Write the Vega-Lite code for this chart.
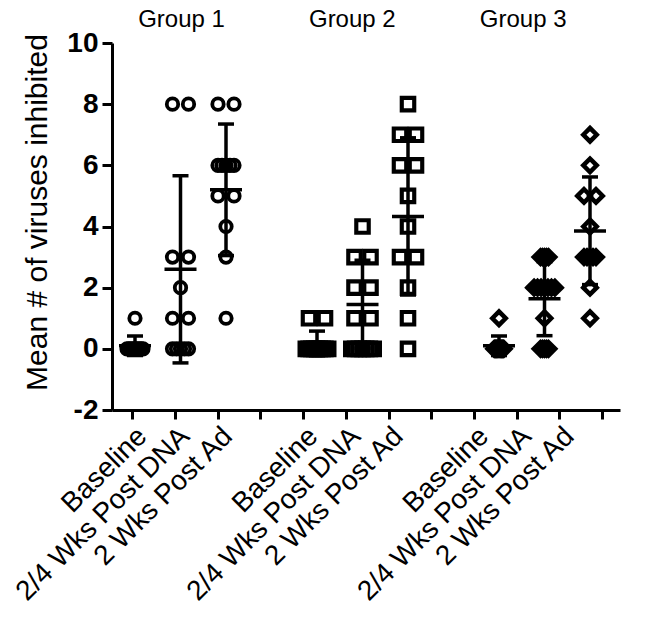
{
  "$schema": "https://vega.github.io/schema/vega-lite/v6.json",
  "autosize": {"type": "none"},
  "padding": {"left": 112, "top": 43, "right": 46, "bottom": 216},
  "width": 508,
  "height": 367,
  "background": "white",
  "datasets": {
    "summ": [
      {"group": "Group 1", "cond": "Baseline", "pos": 1, "mean": 0.1, "lo": -0.22, "hi": 0.42},
      {"group": "Group 1", "cond": "2/4 Wks Post DNA", "pos": 2, "mean": 2.6, "lo": -0.46, "hi": 5.66},
      {"group": "Group 1", "cond": "2 Wks Post Ad", "pos": 3, "mean": 5.2, "lo": 3.05, "hi": 7.35},
      {"group": "Group 2", "cond": "Baseline", "pos": 5, "mean": 0.18, "lo": -0.22, "hi": 0.58},
      {"group": "Group 2", "cond": "2/4 Wks Post DNA", "pos": 6, "mean": 1.45, "lo": 0.02, "hi": 2.9},
      {"group": "Group 2", "cond": "2 Wks Post Ad", "pos": 7, "mean": 4.33, "lo": 1.76, "hi": 6.9},
      {"group": "Group 3", "cond": "Baseline", "pos": 9, "mean": 0.1, "lo": -0.22, "hi": 0.42},
      {"group": "Group 3", "cond": "2/4 Wks Post DNA", "pos": 10, "mean": 1.64, "lo": 0.43, "hi": 2.85},
      {"group": "Group 3", "cond": "2 Wks Post Ad", "pos": 11, "mean": 3.85, "lo": 2.1, "hi": 5.62}
    ],
    "pts": [
      {"group": "Group 1", "pos": 1, "value": 1, "k": 0},
      {"group": "Group 1", "pos": 1, "value": 0, "k": -1},
      {"group": "Group 1", "pos": 1, "value": 0, "k": -0.75},
      {"group": "Group 1", "pos": 1, "value": 0, "k": -0.5},
      {"group": "Group 1", "pos": 1, "value": 0, "k": -0.25},
      {"group": "Group 1", "pos": 1, "value": 0, "k": 0},
      {"group": "Group 1", "pos": 1, "value": 0, "k": 0.25},
      {"group": "Group 1", "pos": 1, "value": 0, "k": 0.5},
      {"group": "Group 1", "pos": 1, "value": 0, "k": 0.75},
      {"group": "Group 1", "pos": 1, "value": 0, "k": 1},

      {"group": "Group 1", "pos": 2, "value": 8, "k": -1},
      {"group": "Group 1", "pos": 2, "value": 8, "k": 1},
      {"group": "Group 1", "pos": 2, "value": 3, "k": -1},
      {"group": "Group 1", "pos": 2, "value": 3, "k": 1},
      {"group": "Group 1", "pos": 2, "value": 2, "k": 0},
      {"group": "Group 1", "pos": 2, "value": 1, "k": -1},
      {"group": "Group 1", "pos": 2, "value": 1, "k": 1},
      {"group": "Group 1", "pos": 2, "value": 0, "k": -1},
      {"group": "Group 1", "pos": 2, "value": 0, "k": -0.5},
      {"group": "Group 1", "pos": 2, "value": 0, "k": 0},
      {"group": "Group 1", "pos": 2, "value": 0, "k": 0.5},
      {"group": "Group 1", "pos": 2, "value": 0, "k": 1},

      {"group": "Group 1", "pos": 3, "value": 8, "k": -1},
      {"group": "Group 1", "pos": 3, "value": 8, "k": 1},
      {"group": "Group 1", "pos": 3, "value": 6, "k": -1},
      {"group": "Group 1", "pos": 3, "value": 6, "k": -0.5},
      {"group": "Group 1", "pos": 3, "value": 6, "k": 0},
      {"group": "Group 1", "pos": 3, "value": 6, "k": 0.5},
      {"group": "Group 1", "pos": 3, "value": 6, "k": 1},
      {"group": "Group 1", "pos": 3, "value": 5, "k": -1},
      {"group": "Group 1", "pos": 3, "value": 5, "k": 1},
      {"group": "Group 1", "pos": 3, "value": 4, "k": 0},
      {"group": "Group 1", "pos": 3, "value": 3, "k": 0},
      {"group": "Group 1", "pos": 3, "value": 1, "k": 0},

      {"group": "Group 2", "pos": 5, "value": 1, "k": -1},
      {"group": "Group 2", "pos": 5, "value": 1, "k": 1},
      {"group": "Group 2", "pos": 5, "value": 0, "k": -1.4},
      {"group": "Group 2", "pos": 5, "value": 0, "k": -1.05},
      {"group": "Group 2", "pos": 5, "value": 0, "k": -0.7},
      {"group": "Group 2", "pos": 5, "value": 0, "k": -0.35},
      {"group": "Group 2", "pos": 5, "value": 0, "k": 0},
      {"group": "Group 2", "pos": 5, "value": 0, "k": 0.35},
      {"group": "Group 2", "pos": 5, "value": 0, "k": 0.7},
      {"group": "Group 2", "pos": 5, "value": 0, "k": 1.05},
      {"group": "Group 2", "pos": 5, "value": 0, "k": 1.4},

      {"group": "Group 2", "pos": 6, "value": 4, "k": 0},
      {"group": "Group 2", "pos": 6, "value": 3, "k": -1},
      {"group": "Group 2", "pos": 6, "value": 3, "k": 1},
      {"group": "Group 2", "pos": 6, "value": 2, "k": -1},
      {"group": "Group 2", "pos": 6, "value": 2, "k": 1},
      {"group": "Group 2", "pos": 6, "value": 1, "k": -1},
      {"group": "Group 2", "pos": 6, "value": 1, "k": 1},
      {"group": "Group 2", "pos": 6, "value": 0, "k": -1.4},
      {"group": "Group 2", "pos": 6, "value": 0, "k": -0.93},
      {"group": "Group 2", "pos": 6, "value": 0, "k": -0.47},
      {"group": "Group 2", "pos": 6, "value": 0, "k": 0},
      {"group": "Group 2", "pos": 6, "value": 0, "k": 0.47},
      {"group": "Group 2", "pos": 6, "value": 0, "k": 0.93},
      {"group": "Group 2", "pos": 6, "value": 0, "k": 1.4},

      {"group": "Group 2", "pos": 7, "value": 8, "k": 0},
      {"group": "Group 2", "pos": 7, "value": 7, "k": -1},
      {"group": "Group 2", "pos": 7, "value": 7, "k": 1},
      {"group": "Group 2", "pos": 7, "value": 6, "k": -1},
      {"group": "Group 2", "pos": 7, "value": 6, "k": 1},
      {"group": "Group 2", "pos": 7, "value": 5, "k": 0},
      {"group": "Group 2", "pos": 7, "value": 4, "k": 0},
      {"group": "Group 2", "pos": 7, "value": 3, "k": -1},
      {"group": "Group 2", "pos": 7, "value": 3, "k": 1},
      {"group": "Group 2", "pos": 7, "value": 2, "k": 0},
      {"group": "Group 2", "pos": 7, "value": 1, "k": 0},
      {"group": "Group 2", "pos": 7, "value": 0, "k": 0},

      {"group": "Group 3", "pos": 9, "value": 1, "k": 0},
      {"group": "Group 3", "pos": 9, "value": 0, "k": -0.6},
      {"group": "Group 3", "pos": 9, "value": 0, "k": -0.45},
      {"group": "Group 3", "pos": 9, "value": 0, "k": -0.3},
      {"group": "Group 3", "pos": 9, "value": 0, "k": -0.15},
      {"group": "Group 3", "pos": 9, "value": 0, "k": 0},
      {"group": "Group 3", "pos": 9, "value": 0, "k": 0.15},
      {"group": "Group 3", "pos": 9, "value": 0, "k": 0.3},
      {"group": "Group 3", "pos": 9, "value": 0, "k": 0.45},
      {"group": "Group 3", "pos": 9, "value": 0, "k": 0.6},

      {"group": "Group 3", "pos": 10, "value": 3, "k": -0.5},
      {"group": "Group 3", "pos": 10, "value": 3, "k": -0.25},
      {"group": "Group 3", "pos": 10, "value": 3, "k": 0},
      {"group": "Group 3", "pos": 10, "value": 3, "k": 0.25},
      {"group": "Group 3", "pos": 10, "value": 3, "k": 0.5},
      {"group": "Group 3", "pos": 10, "value": 2, "k": -1.3},
      {"group": "Group 3", "pos": 10, "value": 2, "k": -0.87},
      {"group": "Group 3", "pos": 10, "value": 2, "k": -0.43},
      {"group": "Group 3", "pos": 10, "value": 2, "k": 0},
      {"group": "Group 3", "pos": 10, "value": 2, "k": 0.43},
      {"group": "Group 3", "pos": 10, "value": 2, "k": 0.87},
      {"group": "Group 3", "pos": 10, "value": 2, "k": 1.3},
      {"group": "Group 3", "pos": 10, "value": 1, "k": 0},
      {"group": "Group 3", "pos": 10, "value": 0, "k": -0.5},
      {"group": "Group 3", "pos": 10, "value": 0, "k": -0.25},
      {"group": "Group 3", "pos": 10, "value": 0, "k": 0},
      {"group": "Group 3", "pos": 10, "value": 0, "k": 0.25},
      {"group": "Group 3", "pos": 10, "value": 0, "k": 0.5},

      {"group": "Group 3", "pos": 11, "value": 7, "k": 0},
      {"group": "Group 3", "pos": 11, "value": 6, "k": 0},
      {"group": "Group 3", "pos": 11, "value": 5, "k": -0.75},
      {"group": "Group 3", "pos": 11, "value": 5, "k": 0.75},
      {"group": "Group 3", "pos": 11, "value": 4, "k": 0},
      {"group": "Group 3", "pos": 11, "value": 3, "k": -0.75},
      {"group": "Group 3", "pos": 11, "value": 3, "k": -0.375},
      {"group": "Group 3", "pos": 11, "value": 3, "k": 0},
      {"group": "Group 3", "pos": 11, "value": 3, "k": 0.375},
      {"group": "Group 3", "pos": 11, "value": 3, "k": 0.75},
      {"group": "Group 3", "pos": 11, "value": 2, "k": 0},
      {"group": "Group 3", "pos": 11, "value": 1, "k": 0}
    ]
  },
  "resolve": {"scale": {"x": "independent"}},
  "layer": [
    {
      "data": {"name": "summ"},
      "mark": {"type": "point", "opacity": 0},
      "encoding": {
        "x": {
          "field": "pos", "type": "quantitative",
          "scale": {"domain": [0.525, 12.42], "nice": false, "zero": false},
          "axis": {
            "orient": "bottom", "title": null,
            "values": [1, 2, 3, 4, 5, 6, 7, 8, 9, 10, 11, 12],
            "labelExpr": "indexof([1,5,9], datum.value) >= 0 ? 'Baseline' : indexof([2,6,10], datum.value) >= 0 ? '2/4 Wks Post DNA' : indexof([3,7,11], datum.value) >= 0 ? '2 Wks Post Ad' : ''",
            "labelAngle": -45, "labelFontSize": 28, "labelPadding": 3, "labelLimit": 1000,
            "tickSize": 9, "labelOverlap": false, "labelFlush": false, "labelBound": false
          }
        },
        "y": {
          "field": "mean", "type": "quantitative",
          "scale": {"domain": [-2, 10], "nice": false, "zero": false},
          "title": "Mean # of viruses inhibited",
          "axis": {"values": [-2, 0, 2, 4, 6, 8, 10], "labelExpr": "replace(datum.label, '\u2212', '-')", "titleY": 169}
        }
      }
    },
    {
      "data": {"name": "summ"},
      "mark": {"type": "point", "opacity": 0},
      "encoding": {
        "x": {
          "field": "pos", "type": "quantitative",
          "scale": {"domain": [0.525, 12.42], "nice": false, "zero": false},
          "axis": {
            "orient": "top", "title": null, "values": [2, 6, 10],
            "labelExpr": "datum.value == 2 ? 'Group 1' : datum.value == 6 ? 'Group 2' : 'Group 3'",
            "domain": false, "ticks": false, "labelAngle": 0,
            "labelFontSize": 24, "labelPadding": 12, "labelOffset": 6,
            "labelFontWeight": "normal"
          }
        },
        "y": {
          "field": "mean", "type": "quantitative",
          "scale": {"domain": [-2, 10], "nice": false, "zero": false},
          "title": "Mean # of viruses inhibited"
        }
      }
    },
    {
      "data": {"name": "summ"},
      "mark": {"type": "rule", "color": "black", "opacity": 1, "strokeWidth": 3.5},
      "encoding": {
        "x": {"field": "pos", "type": "ordinal", "scale": {"type": "point", "domain": [1, 2, 3, 4, 5, 6, 7, 8, 9, 10, 11], "padding": 0.5824, "align": 0.434}, "axis": null},
        "y": {"field": "lo", "type": "quantitative", "scale": {"domain": [-2, 10], "nice": false, "zero": false}, "title": "Mean # of viruses inhibited"},
        "y2": {"field": "hi"}
      }
    },
    {
      "data": {"name": "summ"},
      "mark": {"type": "tick", "orient": "horizontal", "color": "black", "opacity": 1, "size": 16, "thickness": 3.5},
      "encoding": {
        "x": {"field": "pos", "type": "ordinal", "scale": {"type": "point", "domain": [1, 2, 3, 4, 5, 6, 7, 8, 9, 10, 11], "padding": 0.5824, "align": 0.434}, "axis": null},
        "y": {"field": "lo", "type": "quantitative", "scale": {"domain": [-2, 10], "nice": false, "zero": false}, "title": "Mean # of viruses inhibited"}
      }
    },
    {
      "data": {"name": "summ"},
      "mark": {"type": "tick", "orient": "horizontal", "color": "black", "opacity": 1, "size": 16, "thickness": 3.5},
      "encoding": {
        "x": {"field": "pos", "type": "ordinal", "scale": {"type": "point", "domain": [1, 2, 3, 4, 5, 6, 7, 8, 9, 10, 11], "padding": 0.5824, "align": 0.434}, "axis": null},
        "y": {"field": "hi", "type": "quantitative", "scale": {"domain": [-2, 10], "nice": false, "zero": false}, "title": "Mean # of viruses inhibited"}
      }
    },
    {
      "data": {"name": "summ"},
      "mark": {"type": "tick", "orient": "horizontal", "color": "black", "opacity": 1, "size": 32, "thickness": 3.5},
      "encoding": {
        "x": {"field": "pos", "type": "ordinal", "scale": {"type": "point", "domain": [1, 2, 3, 4, 5, 6, 7, 8, 9, 10, 11], "padding": 0.5824, "align": 0.434}, "axis": null},
        "y": {"field": "mean", "type": "quantitative", "scale": {"domain": [-2, 10], "nice": false, "zero": false}, "title": "Mean # of viruses inhibited"}
      }
    },
    {
      "data": {"name": "pts"},
      "mark": {"type": "point", "filled": false, "color": "black", "opacity": 1},
      "encoding": {
        "x": {"field": "pos", "type": "ordinal", "scale": {"type": "point", "domain": [1, 2, 3, 4, 5, 6, 7, 8, 9, 10, 11], "padding": 0.5824, "align": 0.434}, "axis": null},
        "xOffset": {"field": "k", "type": "quantitative", "scale": {"domain": [-1, 1], "range": [-8, 8]}},
        "y": {"field": "value", "type": "quantitative", "scale": {"domain": [-2, 10], "nice": false, "zero": false}, "title": "Mean # of viruses inhibited"},
        "shape": {"field": "group", "type": "nominal", "scale": {"domain": ["Group 1", "Group 2", "Group 3"], "range": ["circle", "square", "diamond"]}, "legend": null},
        "size": {"field": "group", "type": "nominal", "scale": {"domain": ["Group 1", "Group 2", "Group 3"], "range": [130, 180, 240]}, "legend": null},
        "strokeWidth": {"field": "group", "type": "nominal", "scale": {"domain": ["Group 1", "Group 2", "Group 3"], "range": [3.8, 4.5, 4.5]}, "legend": null}
      }
    }
  ],
  "config": {
    "view": {"stroke": null},
    "font": "Liberation Sans",
    "axis": {
      "grid": false, "domainColor": "black", "domainWidth": 3, "tickColor": "black", "tickWidth": 3,
      "labelColor": "black", "titleColor": "black", "labelFont": "Liberation Sans", "titleFont": "Liberation Sans"
    },
    "axisY": {
      "tickSize": 10, "labelFontSize": 28, "labelFontWeight": "bold", "labelPadding": 4,
      "titleFontSize": 30, "titleFontWeight": "normal", "titlePadding": 14
    }
  }
}
